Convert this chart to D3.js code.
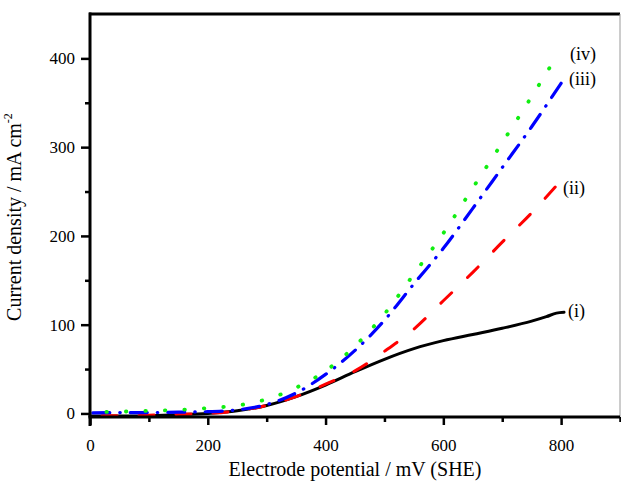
<!DOCTYPE html>
<html>
<head>
<meta charset="utf-8">
<script src="https://cdn.jsdelivr.net/npm/d3@7"></script>
<style>
  body { margin: 0; background: #fff; }
  svg { display: block; font-family: "Liberation Serif", "Times New Roman", serif; }
</style>
</head>
<body>
<div id="chart"></div>
<script>
// potentials (mV) and current densities (mA cm-2)
var potI   = [0, 50, 100, 150, 200, 250, 300, 350, 400, 450, 500, 550, 600, 650, 700, 750, 775, 792, 805];
var curI   = [-3, -3, -2.5, -1.5, 0, 3, 9, 19, 32, 47, 61, 73, 82, 89, 96, 104, 109, 113, 114];
var potII  = [0, 50, 100, 150, 200, 250, 300, 350, 400, 450, 500, 550, 600, 650, 700, 750, 790];
var curII  = [-2.5, -2.5, -2, -1, 0, 3, 9, 19, 33, 48, 70, 95, 127, 159, 193, 226, 255];
var potIII = [0, 50, 100, 150, 200, 250, 300, 350, 400, 450, 500, 550, 600, 650, 700, 750, 800];
var curIII = [0.5, 1, 1, 1.5, 2, 4, 10, 23, 44, 71, 105, 146, 186, 231, 277, 323, 372];
var potIV  = [0, 50, 100, 150, 200, 250, 300, 350, 400, 450, 500, 550, 600, 650, 700, 750, 780];
var curIV  = [1.5, 2, 3, 4, 6, 9, 16, 29, 48, 76, 112, 157, 203, 254, 305, 357, 389];

var seriesNames = ["(i)", "(ii)", "(iii)", "(iv)"];
var xMajor = [0, 200, 400, 600, 800];
var xMinor = [100, 300, 500, 700, 900];
var yMajor = [0, 100, 200, 300, 400];
var yMinor = [50, 150, 250, 350];

var W = 621, H = 484;
var x = d3.scaleLinear().domain([0, 900]).range([90, 620]);
var y = d3.scaleLinear().domain([-4, 450]).range([417, 14]);

var svg = d3.select("#chart").append("svg").attr("width", W).attr("height", H);
svg.append("rect").attr("width", W).attr("height", H).attr("fill", "#fff");

function zip(xs, ys) {
  return xs.map(function (v, i) { return [v, ys[i]]; });
}

// dash = [on, off, ...]; the pattern is shifted so a mark ends right at the line end
var series = [
  { name: seriesNames[0], pts: zip(potI, curI), color: "#000000", dash: null, width: 3, lx: 568, ly: 317 },
  { name: seriesNames[1], pts: zip(potII, curII), color: "#ff0000", dash: [15, 22], width: 3, lx: 563, ly: 194 },
  { name: seriesNames[2], pts: zip(potIII, curIII), color: "#0000ff", dash: [17, 10, 0.5, 10], width: 3.2, lx: 569, ly: 85 },
  { name: seriesNames[3], pts: zip(potIV, curIV), color: "#11ee11", dash: [0.5, 19], width: 3.8, lx: 570, ly: 60 }
];

var line = d3.line()
  .x(function (d) { return x(d[0]); })
  .y(function (d) { return y(d[1]); })
  .curve(d3.curveMonotoneX);

svg.selectAll(".curve")
  .data(series)
  .enter()
  .append("path")
  .attr("class", "curve")
  .attr("d", function (d) { return line(d.pts); })
  .attr("fill", "none")
  .attr("stroke", function (d) { return d.color; })
  .attr("stroke-width", function (d) { return d.width; })
  .attr("stroke-linecap", "round")
  .attr("stroke-dasharray", function (d) { return d.dash ? d.dash.join(",") : null; })
  .attr("stroke-dashoffset", function (d) {
    if (!d.dash) return 0;
    var period = d3.sum(d.dash);
    var len = this.getTotalLength();
    return period - ((len - d.dash[0]) % period);
  });

svg.selectAll(".lbl")
  .data(series)
  .enter()
  .append("text")
  .attr("class", "lbl")
  .attr("x", function (d) { return d.lx; })
  .attr("y", function (d) { return d.ly; })
  .attr("font-size", 18)
  .attr("fill", "#000")
  .text(function (d) { return d.name; });

// frame: top thick, right thin
svg.append("line").attr("x1", 89).attr("x2", 620).attr("y1", 14).attr("y2", 14)
  .attr("stroke", "#000").attr("stroke-width", 3);
svg.append("line").attr("x1", 620).attr("x2", 620).attr("y1", 14).attr("y2", 417)
  .attr("stroke", "#999").attr("stroke-width", 1);

// bottom axis
var gx = svg.append("g").attr("transform", "translate(0,417)");
gx.call(d3.axisBottom(x).tickValues(xMinor).tickSize(5).tickFormat(""));
gx.append("g").call(d3.axisBottom(x).tickValues(xMajor).tickSize(8).tickPadding(14).tickFormat(d3.format("d")));
gx.selectAll(".domain").remove();
gx.selectAll("line").attr("stroke", "#000").attr("stroke-width", 2.5);
gx.selectAll("text").attr("font-size", 17).attr("font-family", "Liberation Serif").attr("fill", "#000");
gx.append("line").attr("x1", 88.5).attr("x2", 620).attr("y1", 0).attr("y2", 0)
  .attr("stroke", "#000").attr("stroke-width", 3);

// left axis
var gy = svg.append("g").attr("transform", "translate(90,0)");
gy.call(d3.axisLeft(y).tickValues(yMinor).tickSize(5).tickFormat(""));
gy.append("g").call(d3.axisLeft(y).tickValues(yMajor).tickSize(9).tickPadding(6).tickFormat(d3.format("d")));
gy.selectAll(".domain").remove();
gy.selectAll("line").attr("stroke", "#000").attr("stroke-width", 2.5);
gy.selectAll("text").attr("font-size", 17).attr("font-family", "Liberation Serif").attr("fill", "#000");
gy.append("line").attr("x1", 0).attr("x2", 0).attr("y1", 12.5).attr("y2", 426)
  .attr("stroke", "#000").attr("stroke-width", 3);

// axis titles
svg.append("text")
  .attr("x", 355).attr("y", 476)
  .attr("text-anchor", "middle")
  .attr("font-size", 20)
  .text("Electrode potential / mV (SHE)");

var yt = svg.append("text")
  .attr("transform", "translate(21,217) rotate(-90)")
  .attr("text-anchor", "middle")
  .attr("font-size", 20);
yt.append("tspan").text("Current density / mA cm");
yt.append("tspan").attr("font-size", 12).attr("dy", -9).text("-2");
</script>
</body>
</html>
